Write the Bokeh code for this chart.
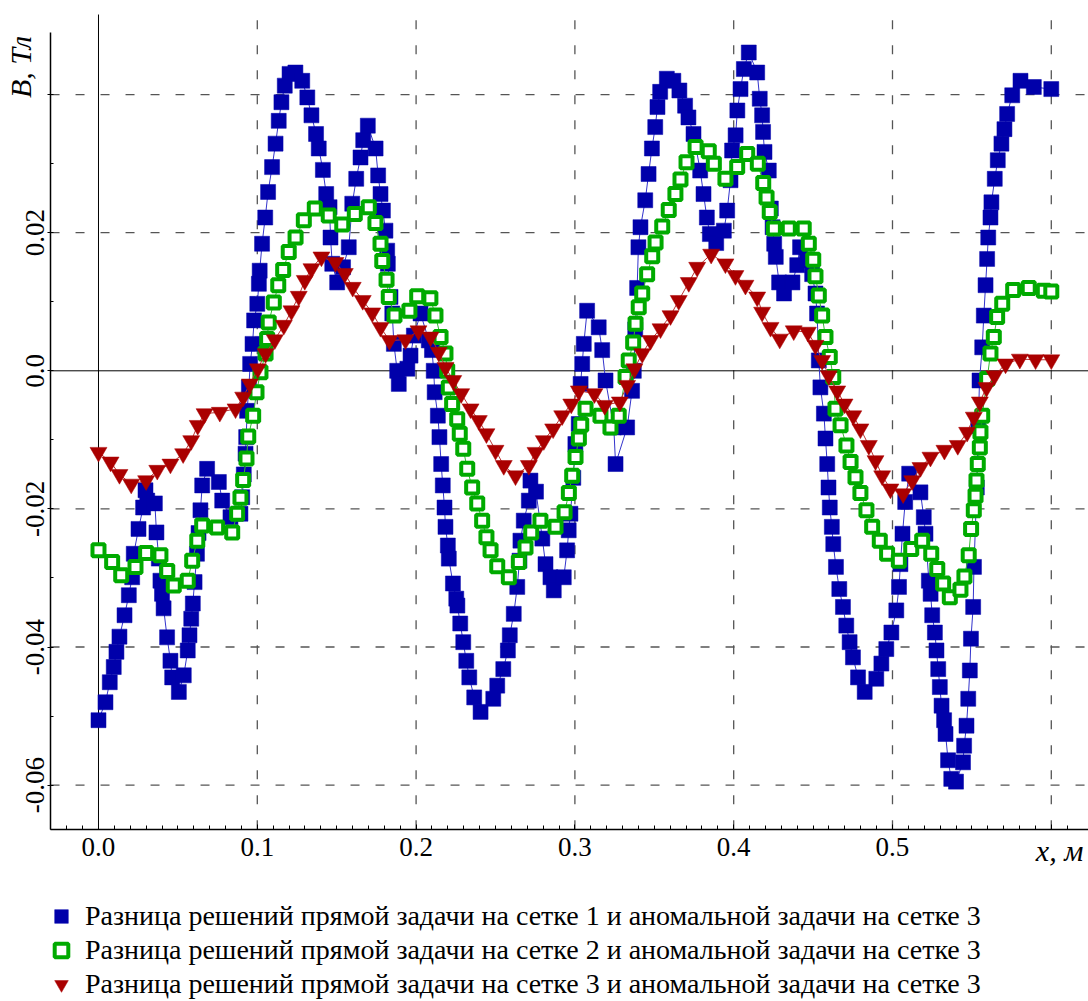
import math
from bokeh.plotting import figure
from bokeh.models import Range1d, FixedTicker, Label, Legend, LegendItem
from bokeh.embed import file_html
from bokeh.resources import INLINE

# ---- data ----
blue_x = [0.000, 0.0044, 0.0071, 0.0096, 0.0113, 0.0132, 0.0164, 0.0191, 0.0212, 0.0222,
          0.0252, 0.0281, 0.0296, 0.0307, 0.0355, 0.0365, 0.0380, 0.0390, 0.0400, 0.0410,
          0.0432, 0.0453, 0.0464, 0.0506, 0.0537, 0.0562, 0.0573, 0.0584, 0.0594, 0.0605,
          0.0620, 0.0630, 0.0642, 0.0653, 0.0684, 0.0758, 0.0779, 0.0831, 0.0894, 0.0905,
          0.0915, 0.0926, 0.0930, 0.0936, 0.0947, 0.0955, 0.0970, 0.0980, 0.1000, 0.1010,
          0.1015, 0.1030, 0.1050, 0.1068, 0.1093, 0.1115, 0.1135, 0.1152, 0.1173, 0.1203,
          0.1240, 0.1283, 0.1315, 0.1341, 0.1370, 0.1387, 0.1413, 0.1434, 0.1455, 0.1461,
          0.1472, 0.1503, 0.1540, 0.1576, 0.1598, 0.1623, 0.1650, 0.1667, 0.1696, 0.1745,
          0.1761, 0.1776, 0.1791, 0.1807, 0.1818, 0.1822, 0.1839, 0.1850, 0.1860, 0.1881,
          0.1891, 0.1945, 0.1965, 0.1986, 0.2028, 0.2080, 0.2100, 0.2111, 0.2117, 0.2137,
          0.2147, 0.2158, 0.2168, 0.2179, 0.2185, 0.2200, 0.2206, 0.2232, 0.2253, 0.2260,
          0.2278, 0.2297, 0.2316, 0.2335, 0.2366, 0.2406, 0.2486, 0.2511, 0.2549, 0.2578,
          0.2590, 0.2615, 0.2637, 0.2651, 0.2657, 0.2678, 0.2710, 0.2720, 0.2755, 0.2795,
          0.2815, 0.2846, 0.2867, 0.2930, 0.2951, 0.2961, 0.2972, 0.2990, 0.3003, 0.3024,
          0.3036, 0.3046, 0.3056, 0.3077, 0.3150, 0.3172, 0.3193, 0.3245, 0.3256, 0.3329,
          0.3360, 0.3371, 0.3380, 0.3392, 0.3400, 0.3413, 0.3443, 0.3464, 0.3485, 0.3506,
          0.3520, 0.3537, 0.3579, 0.3620, 0.3658, 0.3694, 0.3715, 0.3747, 0.3789, 0.3810,
          0.3831, 0.3850, 0.3890, 0.3938, 0.3959, 0.3980, 0.3990, 0.4012, 0.4023, 0.4043,
          0.4064, 0.4095, 0.4148, 0.4164, 0.4179, 0.4185, 0.4194, 0.4221, 0.4234, 0.4245,
          0.4255, 0.4265, 0.4286, 0.4317, 0.4370, 0.4400, 0.4418, 0.4460, 0.4494, 0.4515,
          0.4525, 0.4536, 0.4546, 0.4568, 0.4578, 0.4589, 0.4597, 0.4605, 0.4618, 0.4627,
          0.4644, 0.4665, 0.4688, 0.4709, 0.4730, 0.4751, 0.4783, 0.4825, 0.4898, 0.4930,
          0.4961, 0.4993, 0.5024, 0.5041, 0.5050, 0.5063, 0.5080, 0.5105, 0.5176, 0.5197,
          0.5208, 0.5229, 0.5240, 0.5250, 0.5267, 0.5277, 0.5288, 0.5298, 0.5309, 0.5325,
          0.5334, 0.5350, 0.5370, 0.5400, 0.5444, 0.5451, 0.5466, 0.5477, 0.5487, 0.5494,
          0.5508, 0.5513, 0.5531, 0.5540, 0.5548, 0.5565, 0.5575, 0.5586, 0.5596, 0.5603,
          0.5617, 0.5623, 0.5644, 0.5663, 0.5686, 0.5705, 0.5722, 0.5754, 0.5806, 0.5890,
          0.6000]
blue_y = [-0.0506, -0.0480, -0.0451, -0.0429, -0.0407, -0.0385, -0.0354, -0.0325, -0.0299, -0.0265,
          -0.0229, -0.0198, -0.0173, -0.0188, -0.0192, -0.0234, -0.0272, -0.0304, -0.0323, -0.0344,
          -0.0386, -0.0420, -0.0444, -0.0465, -0.0441, -0.0405, -0.0383, -0.0359, -0.0337, -0.0306,
          -0.0265, -0.0235, -0.0202, -0.0166, -0.0142, -0.0161, -0.0188, -0.0212, -0.0207, -0.0183,
          -0.0150, -0.0120, -0.0096, -0.0058, -0.0024, 0.0010, 0.0039, 0.0073, 0.0097, 0.0126,
          0.0145, 0.0184, 0.0222, 0.0259, 0.0295, 0.0329, 0.0362, 0.0389, 0.0413, 0.0430,
          0.0432, 0.0420, 0.0396, 0.0370, 0.0343, 0.0322, 0.0291, 0.0256, 0.0237, 0.0193,
          0.0155, 0.0128, 0.0150, 0.0179, 0.0242, 0.0278, 0.0309, 0.0334, 0.0355, 0.0322,
          0.0283, 0.0256, 0.0232, 0.0203, 0.0174, 0.0155, 0.0107, 0.0083, 0.0039, 0.0000,
          -0.0019, 0.0003, 0.0022, 0.0051, 0.0083, 0.0044, 0.0030, 0.0000, -0.0031, -0.0065,
          -0.0096, -0.0135, -0.0166, -0.0198, -0.0226, -0.0253, -0.0272, -0.0308, -0.0330, -0.0340,
          -0.0366, -0.0393, -0.0420, -0.0444, -0.0473, -0.0494, -0.0475, -0.0456, -0.0432, -0.0405,
          -0.0383, -0.0352, -0.0313, -0.0275, -0.0246, -0.0217, -0.0188, -0.0159, -0.0175, -0.0243,
          -0.0280, -0.0299, -0.0318, -0.0299, -0.0260, -0.0231, -0.0207, -0.0155, -0.0106, -0.0077,
          -0.0019, 0.0010, 0.0039, 0.0087, 0.0063, 0.0030, -0.0014, -0.0082, -0.0135, -0.0082,
          -0.0029, 0.0000, 0.0060, 0.0120, 0.0179, 0.0208, 0.0247, 0.0285, 0.0322, 0.0353,
          0.0382, 0.0404, 0.0423, 0.0420, 0.0406, 0.0384, 0.0367, 0.0343, 0.0290, 0.0256,
          0.0222, 0.0198, 0.0185, 0.0203, 0.0232, 0.0276, 0.0319, 0.0341, 0.0377, 0.0408,
          0.0437, 0.0461, 0.0432, 0.0394, 0.0370, 0.0346, 0.0317, 0.0290, 0.0235, 0.0208,
          0.0184, 0.0165, 0.0128, 0.0112, 0.0128, 0.0153, 0.0179, 0.0160, 0.0140, 0.0112,
          0.0083, 0.0015, -0.0024, -0.0062, -0.0098, -0.0135, -0.0169, -0.0198, -0.0226, -0.0251,
          -0.0284, -0.0316, -0.0342, -0.0369, -0.0393, -0.0415, -0.0444, -0.0465, -0.0446, -0.0424,
          -0.0403, -0.0379, -0.0347, -0.0313, -0.0280, -0.0236, -0.0190, -0.0149, -0.0176, -0.0212,
          -0.0236, -0.0304, -0.0323, -0.0354, -0.0379, -0.0405, -0.0432, -0.0458, -0.0485, -0.0506,
          -0.0526, -0.0564, -0.0591, -0.0595, -0.0567, -0.0543, -0.0514, -0.0475, -0.0434, -0.0388,
          -0.0342, -0.0284, -0.0169, -0.0080, -0.0014, 0.0034, 0.0080, 0.0124, 0.0162, 0.0193,
          0.0222, 0.0244, 0.0278, 0.0305, 0.0329, 0.0350, 0.0372, 0.0399, 0.0420, 0.0411,
          0.0408]

green_x = [0.000, 0.0086, 0.0143, 0.0233, 0.0300, 0.0390, 0.0433, 0.0474, 0.0562, 0.0590,
           0.0622, 0.0653, 0.0747, 0.0842, 0.0873, 0.0894, 0.0911, 0.0932, 0.0943, 0.0974,
           0.0995, 0.1020, 0.1052, 0.1062, 0.1072, 0.1104, 0.1132, 0.1163, 0.1198, 0.1241,
           0.1293, 0.1362, 0.1450, 0.1535, 0.1614, 0.1702, 0.1744, 0.1776, 0.1787, 0.1814,
           0.1828, 0.1864, 0.1958, 0.2007, 0.2090, 0.2122, 0.2154, 0.2185, 0.2196, 0.2206,
           0.2227, 0.2259, 0.2275, 0.2297, 0.2322, 0.2353, 0.2385, 0.2416, 0.2443, 0.2469,
           0.2511, 0.2584, 0.2647, 0.2689, 0.2725, 0.2783, 0.2878, 0.2935, 0.2962, 0.2983,
           0.3004, 0.3025, 0.3040, 0.3067, 0.3161, 0.3224, 0.3276, 0.3319, 0.3339, 0.3367,
           0.3382, 0.3402, 0.3424, 0.3455, 0.3487, 0.3508, 0.3550, 0.3591, 0.3633, 0.3665,
           0.3703, 0.3760, 0.3843, 0.3875, 0.3948, 0.4022, 0.4085, 0.4152, 0.4186, 0.4207,
           0.4227, 0.4253, 0.4347, 0.4441, 0.4473, 0.4501, 0.4515, 0.4536, 0.4557, 0.4578,
           0.4605, 0.4627, 0.4641, 0.4673, 0.4710, 0.4736, 0.4767, 0.4798, 0.4836, 0.4872,
           0.4920, 0.4966, 0.5040, 0.5118, 0.5187, 0.5244, 0.5282, 0.5319, 0.5361, 0.5428,
           0.5453, 0.5480, 0.5495, 0.5512, 0.5523, 0.5529, 0.5537, 0.5550, 0.5554, 0.5565,
           0.5596, 0.5617, 0.5638, 0.5659, 0.5691, 0.5760, 0.5858, 0.5953, 0.6000]
green_y = [-0.0260, -0.0277, -0.0296, -0.0284, -0.0264, -0.0267, -0.0290, -0.0311, -0.0304, -0.0275,
           -0.0246, -0.0224, -0.0227, -0.0234, -0.0207, -0.0184, -0.0158, -0.0127, -0.0095, -0.0065,
           -0.0031, -0.0002, 0.0025, 0.0046, 0.0070, 0.0099, 0.0124, 0.0146, 0.0172, 0.0193,
           0.0218, 0.0235, 0.0225, 0.0212, 0.0227, 0.0237, 0.0214, 0.0184, 0.0159, 0.0132,
           0.0107, 0.0080, 0.0087, 0.0108, 0.0105, 0.0080, 0.0049, 0.0025, 0.0000, -0.0024,
           -0.0048, -0.0070, -0.0091, -0.0113, -0.0142, -0.0169, -0.0192, -0.0217, -0.0241, -0.0260,
           -0.0283, -0.0299, -0.0277, -0.0256, -0.0234, -0.0217, -0.0226, -0.0205, -0.0177, -0.0152,
           -0.0125, -0.0098, -0.0078, -0.0055, -0.0065, -0.0082, -0.0065, -0.0009, 0.0015, 0.0041,
           0.0068, 0.0092, 0.0112, 0.0140, 0.0166, 0.0186, 0.0209, 0.0233, 0.0256, 0.0277,
           0.0302, 0.0324, 0.0318, 0.0300, 0.0278, 0.0295, 0.0314, 0.0300, 0.0272, 0.0251,
           0.0230, 0.0206, 0.0206, 0.0206, 0.0184, 0.0161, 0.0137, 0.0109, 0.0080, 0.0049,
           0.0020, -0.0009, -0.0055, -0.0079, -0.0108, -0.0132, -0.0154, -0.0177, -0.0202, -0.0226,
           -0.0246, -0.0265, -0.0275, -0.0258, -0.0246, -0.0265, -0.0287, -0.0308, -0.0328, -0.0317,
           -0.0298, -0.0267, -0.0229, -0.0202, -0.0181, -0.0159, -0.0135, -0.0111, -0.0089, -0.0065,
           -0.0012, 0.0025, 0.0049, 0.0078, 0.0097, 0.0117, 0.0120, 0.0116, 0.0115]

red_x = [0.000, 0.0076, 0.0132, 0.0206, 0.0300, 0.0370, 0.0453, 0.0533, 0.0584, 0.0625,
         0.0668, 0.0764, 0.0863, 0.0911, 0.0953, 0.1003, 0.1052, 0.1110, 0.1167, 0.1215,
         0.1261, 0.1299, 0.1341, 0.1404, 0.1492, 0.1551, 0.1601, 0.1664, 0.1724, 0.1776,
         0.1832, 0.1933, 0.2015, 0.2091, 0.2143, 0.2185, 0.2234, 0.2284, 0.2343, 0.2395,
         0.2443, 0.2500, 0.2552, 0.2626, 0.2710, 0.2752, 0.2804, 0.2863, 0.2920, 0.2977,
         0.3025, 0.3123, 0.3188, 0.3283, 0.3329, 0.3375, 0.3424, 0.3476, 0.3539, 0.3602,
         0.3654, 0.3717, 0.3770, 0.3858, 0.3948, 0.4011, 0.4074, 0.4148, 0.4179, 0.4232,
         0.4290, 0.4378, 0.4467, 0.4515, 0.4557, 0.4599, 0.4652, 0.4698, 0.4753, 0.4798,
         0.4851, 0.4893, 0.4935, 0.4987, 0.5067, 0.5124, 0.5176, 0.5239, 0.5327, 0.5411,
         0.5470, 0.5512, 0.5550, 0.5592, 0.5642, 0.5712, 0.5802, 0.5901, 0.6000]
red_y = [-0.0118, -0.0132, -0.0150, -0.0164, -0.0159, -0.0144, -0.0135, -0.0120, -0.0101, -0.0079,
         -0.0062, -0.0060, -0.0055, -0.0038, -0.0019, 0.0003, 0.0025, 0.0045, 0.0066, 0.0087,
         0.0108, 0.0131, 0.0148, 0.0165, 0.0157, 0.0141, 0.0121, 0.0102, 0.0084, 0.0063,
         0.0044, 0.0045, 0.0058, 0.0049, 0.0027, 0.0005, -0.0014, -0.0033, -0.0055, -0.0072,
         -0.0091, -0.0115, -0.0137, -0.0152, -0.0137, -0.0118, -0.0101, -0.0084, -0.0065, -0.0048,
         -0.0029, -0.0033, -0.0050, -0.0045, -0.0021, 0.0003, 0.0025, 0.0044, 0.0061, 0.0080,
         0.0102, 0.0128, 0.0150, 0.0169, 0.0155, 0.0138, 0.0124, 0.0107, 0.0085, 0.0063,
         0.0046, 0.0058, 0.0056, 0.0037, 0.0015, -0.0007, -0.0029, -0.0048, -0.0065, -0.0084,
         -0.0108, -0.0130, -0.0152, -0.0171, -0.0178, -0.0159, -0.0140, -0.0125, -0.0115, -0.0108,
         -0.0089, -0.0067, -0.0045, -0.0024, -0.0007, 0.0010, 0.0017, 0.0016, 0.0016]

x_ticks = [0.0, 0.1, 0.2, 0.3, 0.4, 0.5, 0.6]
x_tick_labels = ["0.0", "0.1", "0.2", "0.3", "0.4", "0.5", ""]
y_ticks = [-0.06, -0.04, -0.02, 0.0, 0.02, 0.04]
y_tick_labels = ["-0.06", "-0.04", "-0.02", "0.0", "0.02", ""]
x_grid = [0.1, 0.2, 0.3, 0.4, 0.5, 0.6]
y_grid = [-0.06, -0.04, -0.02, 0.02, 0.04]

x_title = "x, м"
y_title = "B, Тл"
series_labels = [
    "Разница решений прямой задачи на сетке 1 и аномальной задачи на сетке 3",
    "Разница решений прямой задачи на сетке 2 и аномальной задачи на сетке 3",
    "Разница решений прямой задачи на сетке 3 и аномальной задачи на сетке 3",
]

BLUE = "#0000AA"
GREEN = "#00AA00"
RED = "#AA0000"
FONT = "Liberation Serif"

# plotting box (data units) inside a canvas-wide frame
X_LO, X_HI = -0.0302, 0.6234     # left axis line .. right edge
Y_LO, Y_HI = -0.0664, 0.0516     # bottom axis line .. top of grid
Y_AXIS_TOP = 0.049

p = figure(width=1088, height=1001, output_backend="svg", toolbar_location=None,
           x_range=Range1d(-0.06171, 0.62343), y_range=Range1d(-0.09134, 0.05363),
           min_border=0, min_border_left=0, min_border_right=0,
           min_border_top=0, min_border_bottom=0)
p.outline_line_color = None
p.background_fill_color = "white"
p.border_fill_color = "white"
p.grid.visible = False

# axes drawn at fixed positions (they take no panel space)
x_minor = [round(i * 0.01, 2) for i in range(-3, 62) if i % 10 != 0]
y_minor = [round(i * 0.01, 2) for i in range(-6, 5) if i % 2 != 0]
xa = p.xaxis[0]
ya = p.yaxis[0]
xa.fixed_location = Y_LO
ya.fixed_location = X_LO
xa.bounds = (X_LO, X_HI)
ya.bounds = (Y_LO, Y_AXIS_TOP)
xa.ticker = FixedTicker(ticks=x_ticks, minor_ticks=x_minor)
ya.ticker = FixedTicker(ticks=y_ticks, minor_ticks=y_minor)
xa.major_label_overrides = dict(zip(x_ticks, x_tick_labels))
ya.major_label_overrides = dict(zip(y_ticks, y_tick_labels))
for ax in (xa, ya):
    ax.axis_line_color = "black"
    ax.axis_line_width = 1.5
    ax.major_tick_line_color = "black"
    ax.minor_tick_line_color = "black"
    ax.major_label_text_font = FONT
    ax.major_label_text_font_size = "27px"
    ax.major_label_text_color = "black"
xa.major_tick_in = 5
xa.major_tick_out = 0
xa.minor_tick_in = 4
xa.minor_tick_out = 0
xa.major_label_standoff = 9
ya.major_tick_in = 3
ya.major_tick_out = 3
ya.minor_tick_in = 3
ya.minor_tick_out = 0
ya.major_label_orientation = "vertical"
ya.major_label_standoff = 4

# dashed grid and solid zero lines, limited to the plotting box
DASH = "9 16"
p.segment(x0=x_grid, y0=[Y_LO] * len(x_grid), x1=x_grid, y1=[Y_HI] * len(x_grid),
          line_color="#555555", line_width=1.3, line_dash=DASH)
p.segment(x0=[X_LO] * len(y_grid), y0=y_grid, x1=[X_HI] * len(y_grid), y1=y_grid,
          line_color="#555555", line_width=1.3, line_dash=DASH)
p.segment(x0=[0.0], y0=[Y_LO], x1=[0.0], y1=[Y_HI], line_color="black", line_width=1)
p.segment(x0=[X_LO], y0=[0.0], x1=[X_HI], y1=[0.0], line_color="black", line_width=1)

# series
p.line(blue_x, blue_y, line_color="#3333CC", line_width=1)
rb = p.scatter(blue_x, blue_y, marker="square", size=15, fill_color=BLUE,
               line_color=BLUE, line_width=0.5)
p.line(green_x, green_y, line_color="#33BB33", line_width=1)
rg = p.scatter(green_x, green_y, marker="square", size=12, fill_color="white",
               line_color=GREEN, line_width=4)
p.line(red_x, red_y, line_color="#BB3333", line_width=1)
rr = p.scatter(red_x, red_y, marker="inverted_triangle", size=17, fill_color=RED,
               line_color=RED, line_width=0.5)

legend = Legend(items=[LegendItem(label=series_labels[0], renderers=[rb]),
                       LegendItem(label=series_labels[1], renderers=[rg]),
                       LegendItem(label=series_labels[2], renderers=[rr])],
                location=(42, 0), glyph_width=38, glyph_height=34, spacing=0,
                padding=0, margin=0, label_standoff=5,
                label_text_font=FONT, label_text_font_size="28px",
                label_text_color="black",
                border_line_color=None, background_fill_alpha=0)
p.add_layout(legend)

p.add_layout(Label(x=-0.0491, y=0.044, text=y_title, angle=math.pi / 2,
                   text_font=FONT, text_font_style="italic", text_font_size="30px",
                   text_align="center", text_baseline="middle", text_color="black"))
p.add_layout(Label(x=0.6052, y=-0.0695, text=x_title,
                   text_font=FONT, text_font_style="italic", text_font_size="30px",
                   text_align="center", text_baseline="middle", text_color="black"))

open("out.html", "w").write(file_html(p, INLINE))
